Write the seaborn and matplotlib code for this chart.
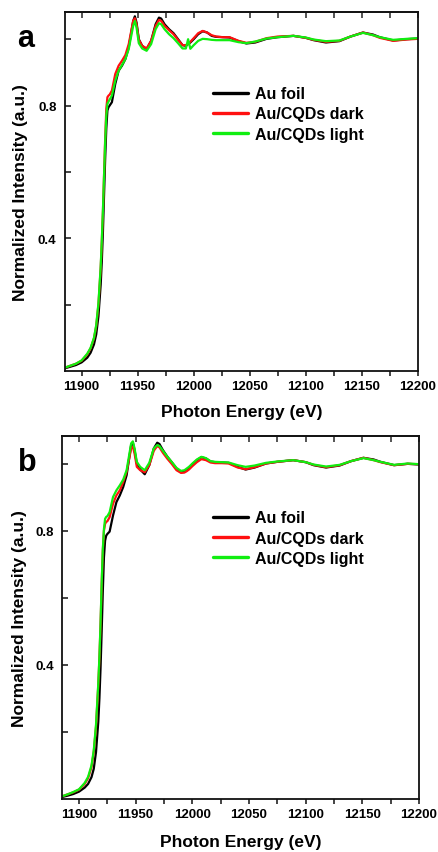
import numpy as np
import pandas as pd
import matplotlib
matplotlib.use("Agg")
import matplotlib.pyplot as plt
import seaborn as sns

# Au L3-edge XANES spectra, two measurement sets
energy = [11885, 11890, 11895, 11900, 11905, 11908, 11911, 11913, 11915, 11917,
          11918, 11919, 11920, 11921, 11922, 11923, 11924, 11925, 11927, 11930,
          11933, 11936, 11939, 11942, 11944, 11946, 11947.5, 11949, 11951, 11954,
          11958, 11962, 11966, 11969, 11971, 11974, 11978, 11982, 11986, 11990,
          11993, 11995, 11997, 12000, 12004, 12008, 12012, 12016, 12020, 12026,
          12032, 12040, 12047, 12055, 12065, 12075, 12089, 12100, 12107, 12118,
          12130, 12140, 12151, 12160, 12166, 12178, 12190, 12200]

samples = ["Au foil", "Au/CQDs dark", "Au/CQDs light"]

a_foil = [0.008, 0.013, 0.018, 0.026, 0.040, 0.055, 0.080, 0.110, 0.165, 0.260,
          0.330, 0.420, 0.530, 0.640, 0.730, 0.785, 0.795, 0.800, 0.810, 0.865,
          0.905, 0.920, 0.940, 0.975, 1.015, 1.055, 1.069, 1.050, 1.000, 0.980,
          0.970, 0.995, 1.045, 1.065, 1.062, 1.045, 1.030, 1.018, 1.000, 0.982,
          0.980, 0.985, 0.990, 1.000, 1.015, 1.024, 1.020, 1.010, 1.007, 1.006,
          1.005, 0.994, 0.987, 0.990, 1.001, 1.006, 1.010, 1.004, 0.997, 0.990,
          0.994, 1.008, 1.020, 1.014, 1.006, 0.996, 1.000, 1.002]
a_dark = [0.010, 0.016, 0.022, 0.031, 0.050, 0.068, 0.098, 0.135, 0.200, 0.310,
          0.390, 0.480, 0.590, 0.700, 0.790, 0.825, 0.830, 0.833, 0.845, 0.895,
          0.920, 0.935, 0.952, 0.985, 1.020, 1.055, 1.063, 1.045, 0.998, 0.980,
          0.972, 0.995, 1.040, 1.058, 1.055, 1.040, 1.027, 1.015, 0.998, 0.982,
          0.982, 0.986, 0.992, 1.003, 1.018, 1.025, 1.020, 1.012, 1.008, 1.006,
          1.006, 0.995, 0.989, 0.992, 1.003, 1.008, 1.010, 1.004, 0.998, 0.992,
          0.995, 1.008, 1.020, 1.012, 1.004, 0.995, 0.999, 1.001]
a_light = [0.010, 0.016, 0.022, 0.032, 0.052, 0.070, 0.100, 0.138, 0.205, 0.315,
           0.395, 0.485, 0.590, 0.690, 0.770, 0.805, 0.812, 0.818, 0.830, 0.875,
           0.905, 0.922, 0.940, 0.970, 1.005, 1.040, 1.055, 1.035, 0.988, 0.972,
           0.965, 0.985, 1.030, 1.048, 1.045, 1.030, 1.015, 1.003, 0.988, 0.972,
           0.972, 1.000, 0.971, 0.982, 0.995, 1.001, 1.000, 0.998, 0.997, 0.997,
           0.997, 0.991, 0.988, 0.993, 1.002, 1.006, 1.010, 1.005, 0.999, 0.994,
           0.996, 1.008, 1.019, 1.012, 1.006, 0.998, 1.001, 1.003]

b_foil = [0.006, 0.010, 0.015, 0.022, 0.034, 0.045, 0.065, 0.090, 0.140, 0.230,
          0.300, 0.390, 0.500, 0.620, 0.720, 0.770, 0.785, 0.790, 0.797, 0.845,
          0.885, 0.905, 0.930, 0.965, 1.010, 1.055, 1.062, 1.040, 1.000, 0.982,
          0.968, 0.995, 1.045, 1.062, 1.058, 1.040, 1.020, 1.003, 0.985, 0.974,
          0.975, 0.980, 0.986, 0.997, 1.010, 1.019, 1.015, 1.006, 1.004, 1.003,
          1.002, 0.990, 0.982, 0.988, 1.000, 1.005, 1.010, 1.004, 0.995, 0.988,
          0.994, 1.007, 1.017, 1.012, 1.005, 0.995, 0.999, 0.997]
b_dark = [0.008, 0.014, 0.020, 0.028, 0.045, 0.062, 0.095, 0.140, 0.215, 0.340,
          0.420, 0.520, 0.640, 0.740, 0.800, 0.820, 0.826, 0.828, 0.840, 0.880,
          0.905, 0.920, 0.945, 0.975, 1.010, 1.045, 1.050, 1.030, 0.990, 0.980,
          0.974, 0.995, 1.038, 1.052, 1.048, 1.032, 1.014, 0.998, 0.980, 0.972,
          0.973, 0.977, 0.982, 0.992, 1.004, 1.013, 1.010, 1.003, 1.001, 1.001,
          1.000, 0.988, 0.983, 0.989, 1.000, 1.005, 1.010, 1.004, 0.996, 0.989,
          0.995, 1.007, 1.017, 1.010, 1.004, 0.995, 0.999, 0.998]
b_light = [0.008, 0.014, 0.021, 0.029, 0.048, 0.066, 0.100, 0.145, 0.222, 0.345,
           0.425, 0.525, 0.645, 0.745, 0.805, 0.835, 0.841, 0.843, 0.855, 0.900,
           0.920, 0.935, 0.952, 0.980, 1.020, 1.060, 1.066, 1.045, 1.005, 0.990,
           0.980, 1.002, 1.045, 1.055, 1.052, 1.038, 1.020, 1.004, 0.987, 0.978,
           0.980, 0.985, 0.990, 1.000, 1.012, 1.020, 1.016, 1.007, 1.005, 1.004,
           1.003, 0.995, 0.990, 0.994, 1.002, 1.006, 1.010, 1.004, 0.997, 0.991,
           0.996, 1.007, 1.016, 1.010, 1.005, 0.996, 1.000, 0.998]

x_major = [11900, 11950, 12000, 12050, 12100, 12150, 12200]
x_all = list(range(11900, 12201, 25))
y_ticks = [0.2, 0.4, 0.6, 0.8, 1.0]
y_ticklabels = ["", "0.4", "", "0.8", ""]

palette = {"Au foil": "#000000", "Au/CQDs dark": "#ff1010", "Au/CQDs light": "#10ee10"}

sns.set_theme(style="ticks")
plt.rcParams["font.family"] = ["Liberation Sans", "DejaVu Sans"]
plt.rcParams["font.weight"] = "bold"
plt.rcParams["axes.labelweight"] = "bold"
plt.rcParams["text.color"] = "black"
plt.rcParams["axes.labelcolor"] = "black"


def long_frame(series):
    rows = []
    for name, vals in zip(samples, series):
        rows.append(pd.DataFrame({"Energy": energy, "Intensity": vals, "Sample": name}))
    return pd.concat(rows, ignore_index=True)


fig = plt.figure(figsize=(4.38, 8.53), dpi=100)
ax_a = fig.add_axes([0.148, 0.5639, 0.806, 0.4209])
ax_b = fig.add_axes([0.1416, 0.0621, 0.815, 0.4256])

panels = [
    (ax_a, [a_foil, a_dark, a_light], "a", (0.419, 0.716), -0.105, -0.092, 0.9545),
    (ax_b, [b_foil, b_dark, b_light], "b", (0.423, 0.719), -0.098, -0.096, 0.4577),
]

for ax, series, letter, leg_anchor, ylab_x, xlab_y, letter_y in panels:
    df = long_frame(series)
    sns.lineplot(data=df, x="Energy", y="Intensity", hue="Sample", hue_order=samples,
                 palette=palette, estimator=None, sort=False, linewidth=1.6, ax=ax)
    ax.set_xlim(11885, 12200)
    ax.set_ylim(0.0, 1.082)

    ax.set_xticks(x_all)
    ax.set_xticklabels([str(v) if v in x_major else "" for v in x_all])
    ax.set_yticks(y_ticks)
    ax.set_yticklabels(y_ticklabels)
    ax.tick_params(axis="x", direction="out", length=3.5, width=1.1, pad=3,
                   labelsize=9.5, color="#111111", labelcolor="black")
    ax.tick_params(axis="y", direction="in", length=4.5, width=1.1, pad=6,
                   labelsize=9.5, color="#111111", labelcolor="black")
    for lab in ax.get_xticklabels() + ax.get_yticklabels():
        lab.set_fontweight("bold")

    top = ax.secondary_xaxis("top")
    top.set_xticks(x_all)
    top.tick_params(direction="in", length=4.5, width=1.1, labeltop=False)

    for sp in ax.spines.values():
        sp.set_linewidth(1.3)
        sp.set_color("#111111")
        sp.set_visible(True)
    top.spines["top"].set_linewidth(1.3)

    ax.set_xlabel("Photon Energy (eV)", fontsize=12.5, fontweight="bold")
    ax.set_ylabel("Normalized Intensity (a.u.)", fontsize=12.5, fontweight="bold")
    ax.xaxis.set_label_coords(0.5, xlab_y)
    ax.yaxis.set_label_coords(ylab_x, 0.5)

    handles, labels = ax.get_legend_handles_labels()
    leg = ax.legend(handles, labels, loc="center left", bbox_to_anchor=leg_anchor,
                    frameon=False, fontsize=11.5, borderpad=0, borderaxespad=0,
                    handlelength=2.2, handletextpad=0.45, labelspacing=0.32)
    for t in leg.get_texts():
        t.set_fontweight("bold")
    for ln in leg.get_lines():
        ln.set_linewidth(2.4)

    fig.text(0.04, letter_y, letter, fontsize=22, fontweight="bold", ha="left", va="center")

fig.savefig("out.png", dpi=100)
